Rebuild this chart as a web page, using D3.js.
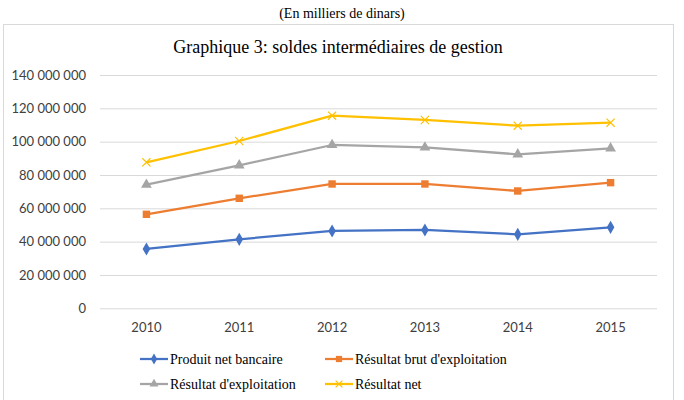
<!DOCTYPE html>
<html><head><meta charset="utf-8">
<script src="https://cdn.jsdelivr.net/npm/d3@7"></script>
<style>body{margin:0;background:#fff}</style>
</head><body>
<svg id="c" width="684" height="400"></svg>
<script>
const years = ["2010","2011","2012","2013","2014","2015"];
const produitNetBancaire = [35.6e6, 41.4e6, 46.4e6, 47.0e6, 44.4e6, 48.6e6];
const resultatBrutExploitation = [56.4e6, 66.0e6, 74.6e6, 74.6e6, 70.4e6, 75.4e6];
const resultatExploitation = [74.2e6, 85.8e6, 98.0e6, 96.5e6, 92.4e6, 96.0e6];
const resultatNet = [87.6e6, 100.4e6, 115.6e6, 113.0e6, 109.6e6, 111.4e6];
const yTicks = [0, 20e6, 40e6, 60e6, 80e6, 100e6, 120e6, 140e6];
const seriesNames = ["Produit net bancaire","Résultat brut d'exploitation","Résultat d'exploitation","Résultat net"];

const series = [
  {name: seriesNames[0], values: produitNetBancaire, color: "#4472C4", symbol: d3.symbolDiamond, size: 50},
  {name: seriesNames[1], values: resultatBrutExploitation, color: "#ED7D31", symbol: d3.symbolSquare, size: 55},
  {name: seriesNames[2], values: resultatExploitation, color: "#A5A5A5", symbol: d3.symbolTriangle, size: 50},
  {name: seriesNames[3], values: resultatNet, color: "#FFC000", symbol: d3.symbolX, size: 45}
];

const svg = d3.select("#c");
const serif = "Liberation Serif, Times New Roman, serif";
const sans = "Lato, Open Sans, sans-serif";

svg.append("text").attr("x", 342).attr("y", 18).attr("text-anchor","middle")
  .attr("font-family", serif).attr("font-size","14px").text("(En milliers de dinars)");

svg.append("rect").attr("x", 3.5).attr("y", 24.5).attr("width", 670).attr("height", 390)
  .attr("fill","none").attr("stroke","#d9d9d9").attr("stroke-width",1);

svg.append("text").attr("x", 338).attr("y", 53).attr("text-anchor","middle")
  .attr("font-family", serif).attr("font-size","18px").text("Graphique 3: soldes intermédiaires de gestion");

const x = d3.scaleBand().domain(years).range([100, 657]);
const y = d3.scaleLinear().domain([0, 140e6]).range([308.3, 75]);

const fmt = v => d3.format(",")(v).replace(/,/g, " ");

const yAxis = svg.append("g").attr("transform","translate(100,0)")
  .call(d3.axisLeft(y).tickValues(yTicks).tickSize(-557).tickFormat(fmt).tickPadding(14));
yAxis.select(".domain").remove();
yAxis.selectAll(".tick line").attr("stroke","#d9d9d9").attr("stroke-width",1);
yAxis.selectAll(".tick text").attr("font-family", sans).attr("font-size","13px").attr("fill","#404040");

const xAxis = svg.append("g").attr("transform","translate(0,308.3)")
  .call(d3.axisBottom(x).tickSize(0).tickPadding(14));
xAxis.select(".domain").remove();
xAxis.selectAll(".tick text").attr("font-family", sans).attr("font-size","13px").attr("fill","#404040");

const line = d3.line().x((d,i) => x(years[i]) + x.bandwidth()/2).y(d => y(d));

series.forEach(s => {
  svg.append("path").datum(s.values).attr("d", line).attr("fill","none")
    .attr("stroke", s.color).attr("stroke-width", 2.25).attr("stroke-linejoin","round");
  const sym = d3.symbol().type(s.symbol).size(s.size);
  svg.selectAll(null).data(s.values).enter().append("path")
    .attr("d", sym)
    .attr("transform", (d,i) => `translate(${x(years[i]) + x.bandwidth()/2},${y(d)})`)
    .attr("fill", s.symbol === d3.symbolX ? "none" : s.color)
    .attr("stroke", s.color).attr("stroke-width", s.symbol === d3.symbolX ? 1.2 : 0);
});

const legendPos = [[140,359],[325,359],[140,384],[325,384]];
series.forEach((s, k) => {
  const [lx, ly] = legendPos[k];
  const g = svg.append("g").attr("transform", `translate(${lx},${ly})`);
  g.append("line").attr("x1",0).attr("x2",28).attr("y1",0).attr("y2",0)
    .attr("stroke", s.color).attr("stroke-width", 2.25);
  g.append("path").attr("d", d3.symbol().type(s.symbol).size(s.size*0.7)).attr("transform","translate(14,0)")
    .attr("fill", s.symbol === d3.symbolX ? "none" : s.color)
    .attr("stroke", s.color).attr("stroke-width", s.symbol === d3.symbolX ? 1.2 : 0);
  g.append("text").attr("x", 30).attr("y", 5).attr("font-family", serif).attr("font-size","14px")
    .attr("fill","#000").text(s.name);
});
</script>
</body></html>
